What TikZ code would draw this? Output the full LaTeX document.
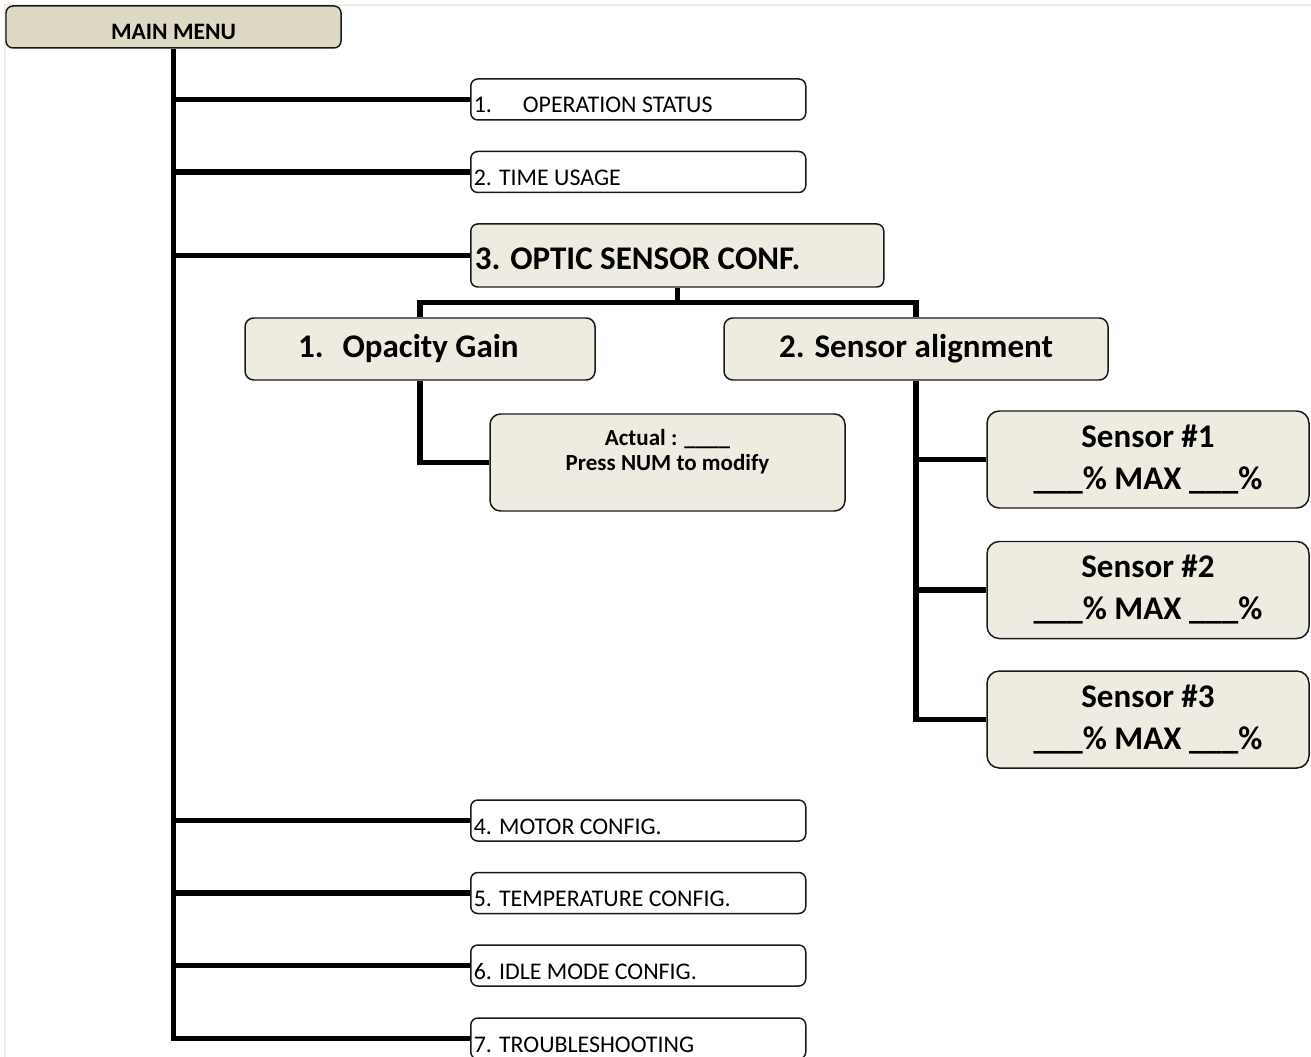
\documentclass[tikz,border=0pt]{standalone}
\usepackage{fontspec}
\setmainfont{Carlito}
\usetikzlibrary{positioning,calc}
\definecolor{menutan}{HTML}{DDD9C4}
\definecolor{lighttan}{HTML}{EEECE1}
\definecolor{framegray}{HTML}{EEEDE4}

\begin{document}
\begin{tikzpicture}[
  box/.style={
    draw=black!90,
    line width=0.85pt,
    rounded corners=4pt,
    inner sep=0pt,
  },
  plainspace/.style={
    align=flush left,
    execute at begin node={\spaceskip=0pt\xspaceskip=0pt\relax},
  },
  menubox/.style={
    box, fill=menutan,
    minimum width=6.7cm,
    text height=0.68cm, text depth=0.16cm,
    font=\bfseries\fontsize{13.4}{16}\selectfont,
  },
  itembox/.style={
    box, fill=white, plainspace,
    text width=6.58cm,
    inner xsep=0.06cm, inner ysep=0.02cm,
    text height=0.66cm, text depth=0.12cm,
    font=\fontsize{13.6}{16}\selectfont,
  },
  subbox/.style={
    box, fill=lighttan,
    rounded corners=5pt,
    minimum height=1.24cm,
    font=\bfseries\fontsize{18.8}{22}\selectfont,
  },
  sensbox/.style={
    box, fill=lighttan,
    rounded corners=7pt,
    minimum width=6.44cm, minimum height=1.94cm,
    align=center,
    font=\bfseries\fontsize{18.8}{23.9}\selectfont,
  },
  trunk/.style={line width=3.4pt},
  link/.style={line width=3.1pt},
]
  \clip (0,0) rectangle (26.22,-21.14);
  % faint page frame, top and left only
  \draw[framegray, line width=0.9pt] (0.1,-21.14) -- (0.1,-0.1) -- (26.22,-0.1);

  % Top: main menu
  \node[menubox] (menu) at (3.47,-0.54) {MAIN MENU};

  % Menu items along the trunk (text sits low-left in the box)
  \node[itembox, anchor=west] (opstat)  at (9.40,-1.99)  {1.\hspace{0.62cm}OPERATION STATUS};
  \node[itembox, anchor=west] (timeuse) at (9.40,-3.44)  {2. TIME USAGE};
  \node[itembox, anchor=west, fill=lighttan, text width=8.10cm, inner xsep=0.08cm,
        text height=0.90cm, text depth=0.32cm,
        font=\bfseries\fontsize{18.8}{22}\selectfont] (optic) at (9.40,-5.11)
    {3. OPTIC SENSOR CONF.};
  \node[itembox, anchor=west] (motor)   at (9.40,-16.41) {4. MOTOR CONFIG.};
  \node[itembox, anchor=west] (temp)    at (9.40,-17.86) {5. TEMPERATURE CONFIG.};
  \node[itembox, anchor=west] (idle)    at (9.40,-19.31) {6. IDLE MODE CONFIG.};
  \node[itembox, anchor=west] (trouble) at (9.40,-20.77) {7. TROUBLESHOOTING};

  \draw[trunk] (menu.south) |- (trouble.west);
  \foreach \t in {opstat,timeuse,optic,motor,temp,idle} {\draw[trunk] (menu.south |- \t.west) -- (\t.west);}

  % Optic sensor sub-menu: two boxes fed from a junction under the box
  \node[subbox, plainspace, text width=7.0cm] (gain) at (8.40,-6.98)
    {\hspace*{1.06cm}1.\hspace{0.38cm}Opacity Gain};
  \node[subbox, minimum width=7.68cm] (align) at (18.32,-6.98) {2. Sensor alignment};
  \coordinate (hub) at ($(optic.south)+(0,-0.3)$);
  \draw[link] (optic.south) -- (hub);
  \foreach \t in {gain,align} {\draw[link] (hub) -| (\t.north);}

  % Opacity gain value box
  \node[box, fill=lighttan, rounded corners=6pt, minimum width=7.1cm, minimum height=1.94cm,
        align=center, font=\bfseries\fontsize{13.1}{14.5}\selectfont] (actual) at (13.35,-9.25)
    {Actual : \_\_\_\_\\Press NUM to modify\\\mbox{}};
  \draw[link] (gain.south) |- (actual.west);

  % Sensor alignment: three sensors on one branch
  \node[sensbox] (sens1) at (22.96,-9.19)  {Sensor \#1\\\_\_\_\% MAX \_\_\_\%};
  \node[sensbox] (sens2) at (22.96,-11.80) {Sensor \#2\\\_\_\_\% MAX \_\_\_\%};
  \node[sensbox] (sens3) at (22.96,-14.39) {Sensor \#3\\\_\_\_\% MAX \_\_\_\%};
  \draw[link] (align.south) |- (sens3.west);
  \foreach \t in {sens1,sens2} {\draw[link] (align.south |- \t.west) -- (\t.west);}
\end{tikzpicture}
\end{document}
